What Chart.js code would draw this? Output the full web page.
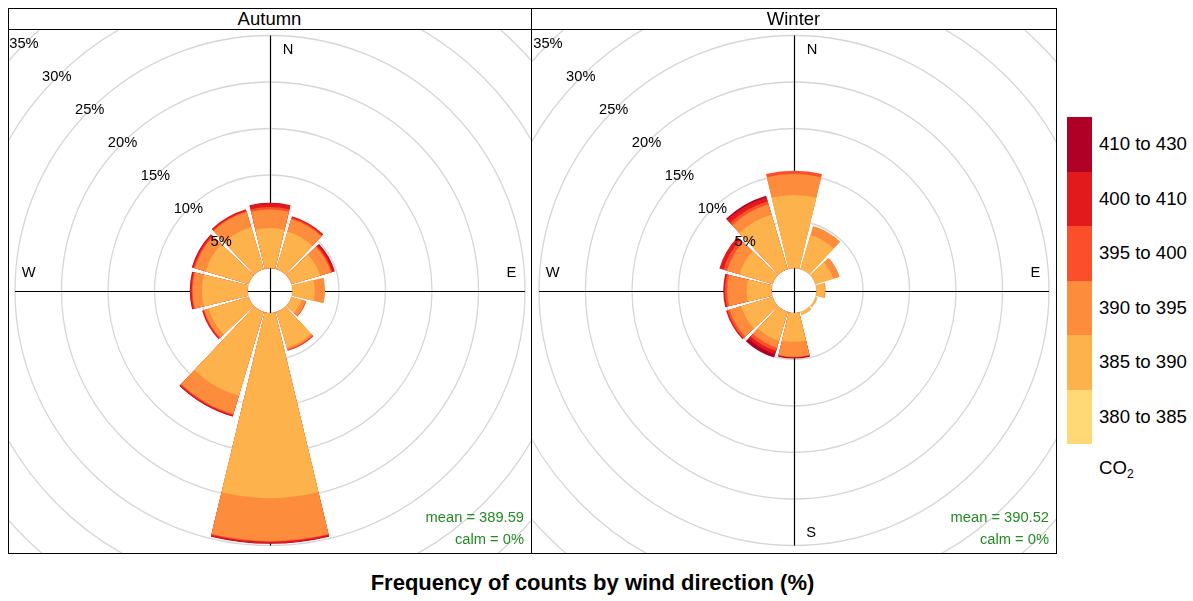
<!DOCTYPE html>
<html>
<head>
<meta charset="utf-8">
<title>Pollution rose - CO2 by season</title>
<script src="https://cdn.jsdelivr.net/npm/chart.js@4.4.1/dist/chart.umd.min.js"></script>
<style>
  html, body { margin: 0; padding: 0; background: #fff; }
  body { font-family: "Liberation Sans", Arial, Helvetica, sans-serif; color: #000; }
  #wrap { position: relative; width: 1193px; height: 601px; overflow: hidden; }
  .panel { position: absolute; top: 29px; height: 524px; }
  .strip { position: absolute; top: 8px; height: 21px; line-height: 21px; text-align: center; font-size: 18.5px; }
  .rule { position: absolute; background: #000; }
  .key { position: absolute; left: 1067px; width: 25px; }
  .keylab { position: absolute; left: 1099px; font-size: 18.6px; line-height: 20px; white-space: nowrap; }
  #title { position: absolute; left: 0; width: 1185px; top: 570px; line-height: 26px; text-align: center; font-size: 22px; font-weight: bold; }
</style>
</head>
<body>
<div id="wrap">
  <canvas id="autumn" class="panel" style="left:8px" width="523" height="524"></canvas>
  <canvas id="winter" class="panel" style="left:531px" width="525" height="524"></canvas>

  <div class="strip" style="left:8px;width:523px">Autumn</div>
  <div class="strip" style="left:531px;width:525px">Winter</div>

  <!-- panel frame -->
  <div class="rule" style="left:8px;top:8px;width:1049px;height:1px"></div>
  <div class="rule" style="left:8px;top:29px;width:1049px;height:1px"></div>
  <div class="rule" style="left:8px;top:553px;width:1049px;height:1px"></div>
  <div class="rule" style="left:8px;top:8px;width:1px;height:546px"></div>
  <div class="rule" style="left:531px;top:8px;width:1px;height:546px"></div>
  <div class="rule" style="left:1056px;top:8px;width:1px;height:546px"></div>

  <div id="legend"></div>
  <div id="title">Frequency of counts by wind direction (%)</div>
</div>

<script>
// Wind sectors (degrees clockwise from north)
const directions = [0, 30, 60, 90, 120, 150, 180, 210, 240, 270, 300, 330];

// CO2 intervals and their colours
const binLabels  = ["380 to 385", "385 to 390", "390 to 395", "395 to 400", "400 to 410", "410 to 430"];
const binColours = ["#FED976", "#FEB24C", "#FD8D3C", "#FC4E2A", "#E31A1C", "#B10026"];

// Ring labels (%)
const gridPercent = [5, 10, 15, 20, 25, 30, 35];

// Autumn: frequency (%) of each CO2 interval per wind sector
const autumn380 = [0, 0, 0, 0, 0, 0, 0, 0, 0, 0, 0, 0];
const autumn385 = [4.3, 4.2, 3.2, 2.4, 1.1, 4.0, 19.9, 9.4, 4.45, 4.9, 4.8, 4.7];
const autumn390 = [2.0, 1.4, 1.2, 1.1, 0.45, 0.2, 4.6, 2.05, 0.5, 1.0, 1.2, 1.7];
const autumn395 = [0.25, 0.15, 0.15, 0, 0.1, 0.1, 0.1, 0.1, 0.1, 0.1, 0.15, 0.1];
const autumn400 = [0.4, 0.17, 0.2, 0, 0, 0.05, 0.15, 0.15, 0.15, 0.15, 0.15, 0.2];
const autumn410 = [0.05, 0, 0.1, 0, 0, 0, 0.05, 0.02, 0, 0.05, 0.05, 0];

// Winter: frequency (%) of each CO2 interval per wind sector
const winter380 = [0, 0, 0, 0, 0, 0, 0, 0, 0, 0, 0, 0];
const winter385 = [7.85, 3.8, 2.0, 0.9, 0.25, 0.35, 3.1, 3.2, 3.5, 2.67, 3.7, 6.1];
const winter390 = [2.25, 1.0, 0.7, 0.1, 0, 0, 1.6, 0.8, 1.3, 2.08, 1.4, 1.15];
const winter395 = [0.35, 0, 0, 0, 0, 0, 0.05, 0.35, 0.25, 0.25, 0.4, 0.35];
const winter400 = [0, 0, 0, 0, 0, 0, 0.05, 0.35, 0.15, 0.12, 0.45, 0.45];
const winter410 = [0, 0, 0, 0, 0, 0, 0.1, 0.4, 0, 0.06, 0, 0.15];

const autumnMean = "389.59", autumnCalm = "0%";
const winterMean = "390.52", winterCalm = "0%";

// Geometry of the rose in axis units (1 unit = 1 %)
const PX_PER_UNIT = 9.3;            // ring spacing
const HOLE = 22.5 / PX_PER_UNIT;    // empty centre (offset)
const HALF_ANGLE = 13.5;            // 0.9 of half a 30 deg sector
const AXIS_LEN = 255 / PX_PER_UNIT;

const rosePlugin = {
  id: 'rose',
  beforeDatasetsDraw(chart, args, opts) {
    const { ctx, chartArea: ca, scales: { x, y } } = chart;
    const cx = x.getPixelForValue(0), cy = y.getPixelForValue(0);
    const rad = v => x.getPixelForValue(v) - cx;
    const pt = (r, deg) => {
      const t = deg * Math.PI / 180;
      return [x.getPixelForValue(r * Math.sin(t)), y.getPixelForValue(r * Math.cos(t))];
    };
    const font = '14.7px "Liberation Sans", Arial, sans-serif';

    ctx.save();
    ctx.beginPath();
    ctx.rect(ca.left, ca.top, ca.width, ca.height);
    ctx.clip();

    // grid rings, including the edge of the centre hole
    ctx.strokeStyle = '#d6d6d6';
    ctx.lineWidth = 1.3;
    [0, ...gridPercent].forEach(g => {
      ctx.beginPath();
      ctx.arc(cx, cy, rad(HOLE + g), 0, Math.PI * 2);
      ctx.stroke();
    });

    // compass axes (snapped to the pixel grid)
    ctx.strokeStyle = '#000';
    ctx.lineWidth = 1.2;
    ctx.beginPath();
    let a = pt(AXIS_LEN, 0), b = pt(AXIS_LEN, 180);
    ctx.moveTo(Math.round(a[0]) + 0.5, a[1]); ctx.lineTo(Math.round(b[0]) + 0.5, b[1]);
    a = pt(AXIS_LEN, 270); b = pt(AXIS_LEN, 90);
    ctx.moveTo(a[0], Math.round(a[1]) + 0.5); ctx.lineTo(b[0], Math.round(b[1]) + 0.5);
    ctx.stroke();

    ctx.fillStyle = '#000';
    ctx.font = font;
    ctx.textAlign = 'center';
    ctx.textBaseline = 'middle';
    const place = (txt, ux, uy) => ctx.fillText(txt, x.getPixelForValue(ux), y.getPixelForValue(uy));
    place('N', 1.95, 25.85);
    place('E', 25.95, 1.9);
    place('W', -25.95, 1.9);
    place('S', 1.85, -26.1);

    // wedges: outer (cumulative) shells first, inner intervals painted over them
    const bins = opts.bins;
    directions.forEach((d, j) => {
      const cum = [];
      let s = 0;
      bins.forEach(arr => { s += arr[j]; cum.push(s); });
      const a0 = (d - HALF_ANGLE - 90) * Math.PI / 180;
      const a1 = (d + HALF_ANGLE - 90) * Math.PI / 180;
      for (let k = bins.length - 1; k >= 0; k--) {
        if (bins[k][j] <= 0) continue;
        const r1 = rad(HOLE), r2 = rad(HOLE + cum[k]);
        ctx.beginPath();
        ctx.arc(cx, cy, r2, a0, a1);
        ctx.arc(cx, cy, r1, a1, a0, true);
        ctx.closePath();
        ctx.fillStyle = binColours[k];
        ctx.fill();
      }
    });

    // ring labels along the north-west diagonal
    ctx.fillStyle = '#000';
    ctx.font = font;
    gridPercent.forEach(g => {
      const p = pt(HOLE + g, 315);
      ctx.fillText(g + '%', p[0], p[1]);
    });

    // summary statistics
    ctx.fillStyle = '#228B22';
    ctx.font = font;
    ctx.textAlign = 'right';
    ctx.fillText('mean = ' + opts.mean, ca.right - 7, ca.bottom - 35);
    ctx.fillText('calm = ' + opts.calm, ca.right - 7, ca.bottom - 13);

    ctx.restore();
  }
};

function makeRose(id, bins, mean, calm, centreX, centreY) {
  const cv = document.getElementById(id);
  const w = cv.width, h = cv.height;
  return new Chart(cv, {
    type: 'scatter',
    data: { datasets: [{ data: [] }] },
    options: {
      responsive: false,
      animation: false,
      events: [],
      layout: { padding: 0 },
      plugins: {
        legend: { display: false },
        tooltip: { enabled: false },
        rose: { bins, mean, calm }
      },
      scales: {
        x: { type: 'linear', display: false, min: -centreX / PX_PER_UNIT, max: (w - centreX) / PX_PER_UNIT },
        y: { type: 'linear', display: false, min: -(h - centreY) / PX_PER_UNIT, max: centreY / PX_PER_UNIT }
      }
    },
    plugins: [rosePlugin]
  });
}

makeRose('autumn', [autumn380, autumn385, autumn390, autumn395, autumn400, autumn410], autumnMean, autumnCalm, 262, 261.5);
makeRose('winter', [winter380, winter385, winter390, winter395, winter400, winter410], winterMean, winterCalm, 263, 261.5);

// colour key
const legend = document.getElementById('legend');
const keyTop = 117, keyH = 54.5;
binLabels.forEach((lab, i) => {
  const row = binLabels.length - 1 - i;   // highest interval on top
  const top = keyTop + row * keyH;
  const sw = document.createElement('div');
  sw.className = 'key';
  sw.style.top = top + 'px';
  sw.style.height = keyH + 'px';
  sw.style.background = binColours[i];
  legend.appendChild(sw);
  const tx = document.createElement('div');
  tx.className = 'keylab';
  tx.style.top = (top + keyH / 2 - 10) + 'px';
  tx.textContent = lab;
  legend.appendChild(tx);
});
const unit = document.createElement('div');
unit.className = 'keylab';
unit.style.top = '458px';
unit.innerHTML = 'CO<sub style="font-size:12px;vertical-align:-4px">2</sub>';
legend.appendChild(unit);
</script>
</body>
</html>
